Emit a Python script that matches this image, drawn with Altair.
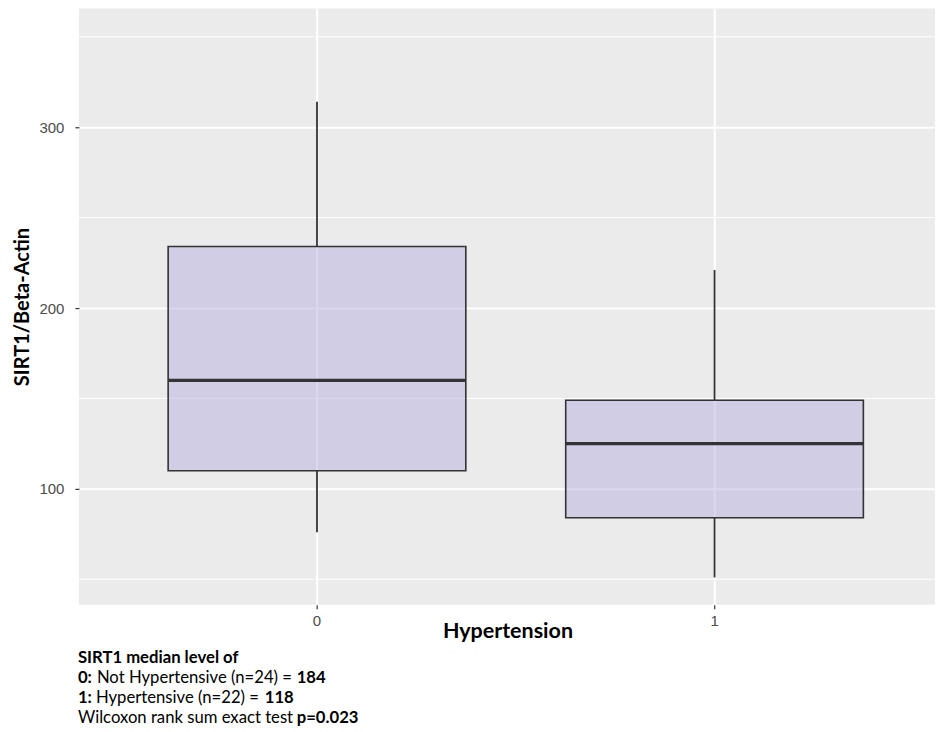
import altair as alt
import pandas as pd

# ---- data ----
groups = ["0", "1"]
whisker_low = [76, 51]
q1 = [110, 84]
median = [160, 125]
q3 = [234, 149]
whisker_high = [314, 221]

major_ticks = [100, 200, 300]
minor_grid = [50, 150, 250, 350]

caption_head = "SIRT1 median level of"
caption_groups = ["0:", "1:"]
caption_desc = ["Not Hypertensive (n=24) =", "Hypertensive (n=22) ="]
caption_medians = ["184", "118"]
caption_test = "Wilcoxon rank sum exact test"
caption_p = "p=0.023"

W, H = 857, 597
FONT = "Liberation Sans"
CFONT = "Lato"

df = pd.DataFrame({
    "group": groups, "lo": whisker_low, "q1": q1, "med": median,
    "q3": q3, "hi": whisker_high,
})

xscale = alt.Scale(domain=groups, paddingInner=0.2513, paddingOuter=0.2023, align=0.5547)
yscale = alt.Scale(domain=[35.9, 365.7], nice=False, zero=False)

xenc = alt.X("group:N", scale=xscale, title="Hypertension",
             axis=alt.Axis(labelAngle=0, bandPosition=0.5, grid=True, gridColor="white",
                           gridWidth=2, domain=False, tickColor="#333333", tickSize=4,
                           tickWidth=1.2, labelColor="#4d4d4d", labelFont=FONT,
                           labelFontSize=15, labelPadding=5, titleFont=CFONT,
                           titleFontSize=21.5, titleFontWeight="bold", titleColor="black",
                           titlePadding=-8, titleX=429))
yenc_axis = alt.Axis(values=major_ticks, grid=True, gridColor="white", gridWidth=2,
                     domain=False, tickColor="#333333", tickSize=4, tickWidth=1.2,
                     labelColor="#4d4d4d", labelFont=FONT, labelFontSize=15,
                     labelPadding=11, titleFont=CFONT, titleFontSize=20,
                     titleFontWeight="bold", titleColor="black", titlePadding=6)

base = alt.Chart(df)

minor = alt.Chart(pd.DataFrame({"v": minor_grid})).mark_rule(
    color="white", strokeWidth=1).encode(y=alt.Y("v:Q", scale=yscale))

upper_w = base.mark_rule(color="#333333", strokeWidth=1.8).encode(
    x=xenc,
    y=alt.Y("q3:Q", scale=yscale, axis=yenc_axis, title="SIRT1/Beta-Actin"),
    y2="hi:Q")
lower_w = base.mark_rule(color="#333333", strokeWidth=1.8).encode(
    x="group:N", y="lo:Q", y2="q1:Q")
box = base.mark_bar(fill="#b8b0e0", fillOpacity=0.5, stroke="#333333",
                    strokeWidth=1.6).encode(x="group:N", y="q1:Q", y2="q3:Q")
med = base.mark_tick(color="#333333", opacity=1, thickness=3.2, size=298,
                     orient="horizontal").encode(x="group:N", y="med:Q")

# caption (mixed bold segments)
cap_rows = pd.DataFrame({
    "t": [caption_head, caption_groups[0], caption_desc[0], caption_medians[0],
          caption_groups[1], caption_desc[1], caption_medians[1], caption_test, caption_p],
    "px": [-1, -1, 18, 218, -1, 17, 186, -1, 218],
    "py": [58, 78, 78, 78, 98, 98, 98, 118, 118],
    "bold": [True, True, False, True, True, False, True, False, True],
})
cap_rows["py"] = cap_rows["py"] + H

cap_bold = alt.Chart(cap_rows[cap_rows["bold"]]).mark_text(
    align="left", baseline="alphabetic", font=CFONT, fontSize=16.7, fontWeight="bold",
    color="black").encode(x=alt.X("px:Q", scale=None), y=alt.Y("py:Q", scale=None), text="t:N")
cap_norm = alt.Chart(cap_rows[~cap_rows["bold"]]).mark_text(
    align="left", baseline="alphabetic", font=CFONT, fontSize=16.7,
    color="black").encode(x=alt.X("px:Q", scale=None), y=alt.Y("py:Q", scale=None), text="t:N")

chart = alt.layer(minor, upper_w, lower_w, box, med, cap_bold, cap_norm).properties(
    width=W, height=H, padding={"left": 4, "top": 0, "right": 0, "bottom": 0}
).configure(background="white").configure_view(fill="#ebebeb", stroke=None)

chart.save("out.html", embed_options={"renderer": "svg", "actions": False})
